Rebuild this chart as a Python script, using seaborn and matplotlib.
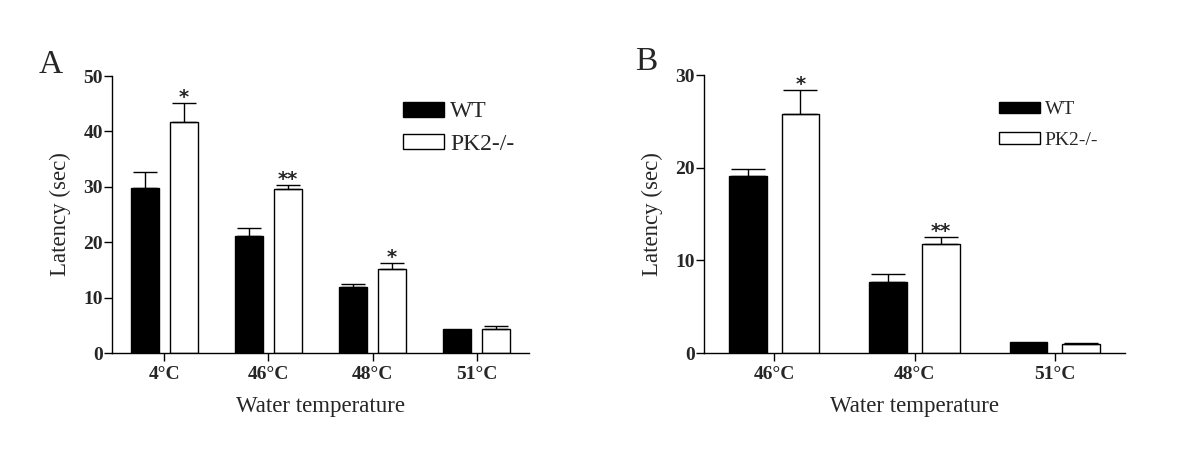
import matplotlib
matplotlib.use("Agg")
import matplotlib.pyplot as plt
import seaborn as sns
import pandas as pd
import numpy as np
from matplotlib.patches import Patch

# ---- data ----
groups = ["WT", "PK2-/-"]
temps_a = ["4°C", "46°C", "48°C", "51°C"]
wt_a = [29.7, 21.1, 11.9, 4.3]
wt_a_err = [3.0, 1.4, 0.6, 0.0]
ko_a = [41.7, 29.6, 15.1, 4.3]
ko_a_err = [3.4, 0.8, 1.2, 0.6]
stars_a = ["", "*", "", "**", "", "*", "", ""]  # WT/KO interleaved per temperature

temps_b = ["46°C", "48°C", "51°C"]
wt_b = [19.1, 7.7, 1.2]
wt_b_err = [0.8, 0.8, 0.0]
ko_b = [25.75, 11.75, 0.97]
ko_b_err = [2.65, 0.75, 0.1]
stars_b = ["", "*", "", "**", "", ""]

sns.set_theme(style="ticks")
plt.rcParams["font.family"] = ["Liberation Serif", "DejaVu Serif"]

W, H = 1200, 455
fig = plt.figure(figsize=(12, 4.55), dpi=100)
axA = fig.add_axes([112 / W, 1 - 353 / H, 417 / W, 277 / H])
axB = fig.add_axes([704 / W, 1 - 353 / H, 421 / W, 278 / H])


def panel(ax, temps, wt, wterr, ko, koerr, stars, ymax, ystep, fs_leg, leg_anchor,
          handlelen, handleh, lspace, star_fs, capsize):
    df = pd.DataFrame({
        "temp": temps * 2,
        "group": ["WT"] * len(temps) + ["PK2-/-"] * len(temps),
        "val": wt + ko,
        "err": wterr + koerr,
    })
    sns.barplot(data=df, x="temp", y="val", hue="group", hue_order=groups,
                palette={"WT": "black", "PK2-/-": "white"}, errorbar=None,
                width=0.75, gap=0.28, edgecolor="black", linewidth=1.0,
                ax=ax, legend=False)
    patches = [p for p in ax.patches]
    n = len(temps)
    for gi, (vals, errs) in enumerate([(wt, wterr), (ko, koerr)]):
        for i in range(n):
            p = patches[gi * n + i]
            xc = p.get_x() + p.get_width() / 2
            if errs[i] > 0:
                ax.errorbar(xc, vals[i], yerr=[[0], [errs[i]]], fmt="none",
                            ecolor="black", elinewidth=1.0, capsize=capsize,
                            capthick=1.0)
            s = stars[i * 2 + gi]
            if s:
                ax.annotate(s, xy=(xc, vals[i] + errs[i]), xytext=(0, 0),
                            textcoords="offset points", ha="center",
                            va="baseline", fontsize=star_fs, fontweight="bold",
                            family=["DejaVu Sans"])
    ax.set_ylim(0, ymax)
    ax.set_xlim(-0.5, n - 0.5)
    ax.set_yticks(np.arange(0, ymax + 0.1, ystep))
    sns.despine(ax=ax)
    for sp in ax.spines.values():
        sp.set_linewidth(1.0)
        sp.set_color("black")
    ax.tick_params(axis="both", direction="out", length=5.5, width=1.0,
                   color="black")
    ax.tick_params(axis="y", labelsize=14, pad=1)
    ax.tick_params(axis="x", labelsize=14, pad=4)
    for lab in ax.get_xticklabels() + ax.get_yticklabels():
        lab.set_fontweight("bold")
    ax.set_xlabel("Water temperature", fontsize=16.5, labelpad=9)
    ax.set_ylabel("Latency (sec)", fontsize=16.5, labelpad=9)
    handles = [Patch(facecolor="black", edgecolor="black", linewidth=1),
               Patch(facecolor="white", edgecolor="black", linewidth=1)]
    ax.legend(handles, groups, loc="upper left", bbox_to_anchor=leg_anchor,
              frameon=False, fontsize=fs_leg, handlelength=handlelen,
              handleheight=handleh, handletextpad=0.25, labelspacing=lspace,
              borderpad=0, borderaxespad=0)


panel(axA, temps_a, wt_a, wt_a_err, ko_a, ko_a_err, stars_a, 50, 10, 17,
      ((403 - 112) / 417, 0.908), 1.74, 0.6, 0.48, 14, 8.5)
panel(axB, temps_b, wt_b, wt_b_err, ko_b, ko_b_err, stars_b, 30, 10, 14,
      ((999 - 704) / 421, 0.906), 2.1, 0.52, 0.7, 14, 12)

fig.text(39 / W, 1 - 73 / H, "A", fontsize=24, ha="left", va="baseline")
fig.text(635 / W, 1 - 70 / H, "B", fontsize=24, ha="left", va="baseline")

fig.savefig("out.png", dpi=100, facecolor="white")
